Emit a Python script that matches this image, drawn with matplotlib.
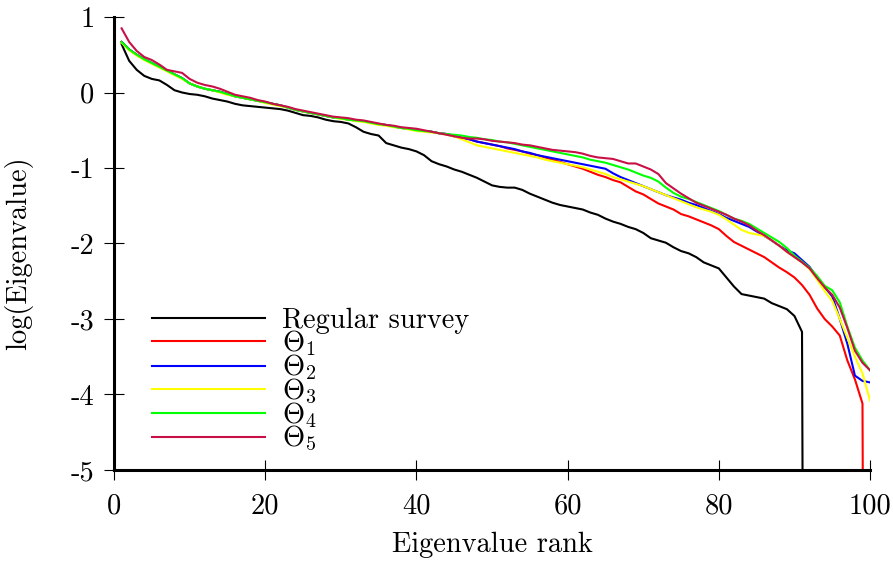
import numpy as np
import matplotlib
matplotlib.use("Agg")
import matplotlib.pyplot as plt

# log of zero eigenvalues (drawn as a vertical drop out of the frame)
LOG_FLOOR = -30.0

ranks = list(range(1, 101))

regular = [0.64, 0.42, 0.30, 0.22, 0.18, 0.16, 0.10, 0.03, 0.00, -0.02,
           -0.03, -0.05, -0.08, -0.10, -0.12, -0.15, -0.17, -0.18, -0.19, -0.20,
           -0.21, -0.22, -0.24, -0.27, -0.30, -0.31, -0.33, -0.36, -0.38, -0.39,
           -0.41, -0.46, -0.52, -0.55, -0.57, -0.67, -0.70, -0.73, -0.75, -0.78,
           -0.83, -0.91, -0.95, -0.98, -1.02, -1.05, -1.09, -1.13, -1.18, -1.23,
           -1.25, -1.26, -1.26, -1.29, -1.34, -1.38, -1.42, -1.46, -1.49, -1.51,
           -1.53, -1.55, -1.59, -1.62, -1.67, -1.71, -1.74, -1.78, -1.81, -1.86,
           -1.93, -1.96, -1.99, -2.05, -2.10, -2.13, -2.18, -2.25, -2.29, -2.33,
           -2.45, -2.57, -2.67, -2.69, -2.71, -2.73, -2.79, -2.83, -2.87, -2.96,
           -3.17] + [LOG_FLOOR] * 9

theta1 = [0.67, 0.57, 0.50, 0.44, 0.39, 0.34, 0.29, 0.24, 0.19, 0.12,
          0.08, 0.05, 0.03, 0.01, -0.02, -0.05, -0.07, -0.09, -0.11, -0.13,
          -0.15, -0.17, -0.20, -0.23, -0.25, -0.27, -0.29, -0.31, -0.33, -0.34,
          -0.36, -0.37, -0.38, -0.40, -0.42, -0.43, -0.45, -0.47, -0.48, -0.50,
          -0.51, -0.52, -0.54, -0.55, -0.58, -0.60, -0.62, -0.65, -0.67, -0.69,
          -0.71, -0.74, -0.76, -0.78, -0.81, -0.83, -0.86, -0.89, -0.92, -0.95,
          -0.98, -1.01, -1.05, -1.09, -1.12, -1.16, -1.19, -1.25, -1.31, -1.35,
          -1.41, -1.47, -1.51, -1.55, -1.61, -1.64, -1.68, -1.72, -1.76, -1.81,
          -1.90, -1.98, -2.03, -2.08, -2.13, -2.18, -2.25, -2.32, -2.38, -2.45,
          -2.55, -2.68, -2.86, -3.00, -3.10, -3.22, -3.55, -3.80, -4.12, LOG_FLOOR]

theta2 = [0.67, 0.57, 0.50, 0.44, 0.39, 0.34, 0.29, 0.24, 0.19, 0.12,
          0.08, 0.05, 0.03, 0.01, -0.02, -0.05, -0.07, -0.09, -0.11, -0.13,
          -0.15, -0.17, -0.20, -0.23, -0.25, -0.27, -0.29, -0.31, -0.33, -0.34,
          -0.36, -0.37, -0.38, -0.40, -0.42, -0.43, -0.45, -0.47, -0.48, -0.50,
          -0.51, -0.52, -0.54, -0.55, -0.58, -0.60, -0.62, -0.65, -0.67, -0.69,
          -0.71, -0.73, -0.75, -0.78, -0.80, -0.83, -0.85, -0.87, -0.89, -0.91,
          -0.93, -0.95, -0.97, -0.99, -1.01, -1.07, -1.12, -1.16, -1.20, -1.24,
          -1.28, -1.32, -1.36, -1.39, -1.42, -1.46, -1.49, -1.53, -1.57, -1.61,
          -1.66, -1.70, -1.74, -1.78, -1.84, -1.90, -1.96, -2.03, -2.09, -2.13,
          -2.22, -2.31, -2.45, -2.58, -2.70, -3.00, -3.33, -3.75, -3.82, -3.84]

theta3 = [0.66, 0.56, 0.49, 0.43, 0.38, 0.33, 0.28, 0.23, 0.18, 0.12,
          0.08, 0.05, 0.03, 0.00, -0.03, -0.05, -0.07, -0.09, -0.11, -0.14,
          -0.16, -0.18, -0.20, -0.23, -0.25, -0.27, -0.29, -0.31, -0.33, -0.35,
          -0.36, -0.38, -0.39, -0.41, -0.43, -0.44, -0.46, -0.47, -0.49, -0.51,
          -0.52, -0.53, -0.54, -0.56, -0.58, -0.62, -0.66, -0.70, -0.72, -0.74,
          -0.76, -0.78, -0.80, -0.82, -0.84, -0.86, -0.89, -0.91, -0.93, -0.95,
          -0.97, -0.99, -1.02, -1.05, -1.08, -1.12, -1.15, -1.18, -1.21, -1.24,
          -1.28, -1.32, -1.36, -1.40, -1.44, -1.48, -1.52, -1.55, -1.58, -1.62,
          -1.68, -1.75, -1.82, -1.86, -1.88, -1.90, -1.96, -2.03, -2.11, -2.18,
          -2.25, -2.34, -2.48, -2.63, -2.76, -3.00, -3.25, -3.50, -3.72, -4.08]

theta4 = [0.67, 0.57, 0.50, 0.44, 0.39, 0.34, 0.29, 0.24, 0.19, 0.12,
          0.08, 0.05, 0.03, 0.01, -0.02, -0.05, -0.07, -0.09, -0.11, -0.13,
          -0.15, -0.17, -0.20, -0.23, -0.25, -0.27, -0.29, -0.31, -0.33, -0.34,
          -0.36, -0.37, -0.38, -0.40, -0.42, -0.43, -0.45, -0.47, -0.48, -0.50,
          -0.51, -0.52, -0.54, -0.55, -0.56, -0.57, -0.59, -0.60, -0.62, -0.63,
          -0.65, -0.66, -0.68, -0.70, -0.72, -0.74, -0.76, -0.78, -0.80, -0.82,
          -0.84, -0.86, -0.89, -0.91, -0.93, -0.96, -0.99, -1.02, -1.06, -1.10,
          -1.13, -1.18, -1.26, -1.33, -1.38, -1.41, -1.45, -1.49, -1.53, -1.57,
          -1.62, -1.67, -1.70, -1.74, -1.80, -1.86, -1.92, -1.98, -2.06, -2.16,
          -2.24, -2.32, -2.43, -2.56, -2.62, -2.78, -3.10, -3.38, -3.55, -3.68]

theta5 = [0.85, 0.67, 0.55, 0.47, 0.43, 0.37, 0.30, 0.28, 0.26, 0.18,
          0.13, 0.10, 0.08, 0.05, 0.01, -0.03, -0.05, -0.07, -0.10, -0.12,
          -0.15, -0.17, -0.19, -0.22, -0.24, -0.26, -0.28, -0.30, -0.32, -0.33,
          -0.34, -0.36, -0.37, -0.39, -0.41, -0.43, -0.44, -0.46, -0.47, -0.48,
          -0.50, -0.52, -0.54, -0.56, -0.58, -0.60, -0.61, -0.61, -0.62, -0.64,
          -0.65, -0.66, -0.67, -0.69, -0.70, -0.72, -0.74, -0.76, -0.77, -0.78,
          -0.79, -0.81, -0.84, -0.86, -0.87, -0.88, -0.91, -0.94, -0.94, -0.98,
          -1.02, -1.08, -1.20, -1.27, -1.34, -1.40, -1.46, -1.50, -1.54, -1.58,
          -1.62, -1.67, -1.71, -1.76, -1.83, -1.89, -1.96, -2.03, -2.11, -2.18,
          -2.25, -2.33, -2.46, -2.58, -2.68, -2.85, -3.12, -3.42, -3.58, -3.68]

labels = ["Regular survey", r"$\Theta_1$", r"$\Theta_2$", r"$\Theta_3$",
          r"$\Theta_4$", r"$\Theta_5$"]
colors = ["black", "#ff0000", "#0000ff", "#ffff00", "#00ff00", "#c81048"]
series = [regular, theta1, theta2, theta3, theta4, theta5]

xticks = [0, 20, 40, 60, 80, 100]
yticks = [1, 0, -1, -2, -3, -4, -5]

plt.rcParams["font.family"] = ["cmr10", "DejaVu Serif"]
plt.rcParams["mathtext.fontset"] = "cm"
plt.rcParams["font.size"] = 20.5

fig = plt.figure(figsize=(8.93, 5.63), dpi=100)
ax = fig.add_axes([0.1277, 0.1652, 0.8466, 0.8046])

for ys, lab, col in zip(series, labels, colors):
    ax.plot(ranks, ys, color=col, lw=1.5, label=lab)

ax.set_xlim(0, 100)
ax.set_ylim(-5, 1)
ax.set_xticks(xticks)
ax.set_xticklabels([str(v) for v in xticks])
ax.set_yticks(yticks)
ax.set_yticklabels([str(v) for v in yticks])

for side in ["top", "right"]:
    ax.spines[side].set_visible(False)
for side in ["left", "bottom"]:
    ax.spines[side].set_linewidth(2.2)
    ax.spines[side].set_zorder(5)
ax.tick_params(direction="inout", length=14, width=0.8)
ax.tick_params(axis="x", pad=10)
ax.tick_params(axis="y", pad=7)

ax.set_xlabel("Eigenvalue rank")
ax.set_ylabel("log(Eigenvalue)")
ax.xaxis.set_label_coords(0.501, -0.137)
ax.yaxis.set_label_coords(-0.107, 0.479)

ax.legend(loc="upper left", bbox_to_anchor=(0.050, 0.358), frameon=False,
          handlelength=3.97, handletextpad=0.6, labelspacing=-0.2,
          borderaxespad=0, borderpad=0)

fig.savefig("out.png", dpi=100)
